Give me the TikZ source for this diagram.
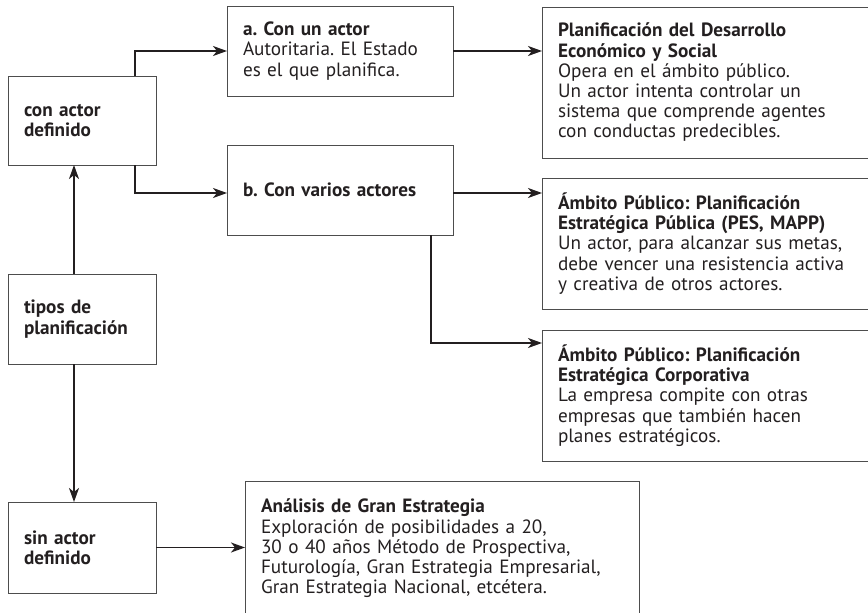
\documentclass[tikz,border=0pt]{standalone}
\usepackage{fontspec}
\setmainfont{PT Sans}
\usetikzlibrary{arrows.meta,calc}
\definecolor{ink}{HTML}{231F20}
\definecolor{boxc}{HTML}{4D4D4D}
\frenchspacing
\hyphenpenalty=10000
\begin{document}
\begin{tikzpicture}[x=1pt,y=-1pt,
  bx/.style={draw=boxc, line width=1pt, anchor=north west, inner xsep=16pt, inner ysep=0pt,
    outer sep=0pt, align=left, text=ink, font=\fontsize{19.2}{20.2}\selectfont},
  arr/.style={draw=ink, line width=1.8pt, -{Stealth[length=14pt,width=10pt,inset=4pt]}}]
\useasboundingbox (0,0) rectangle (868,613);
\node[bx, text width=116pt, minimum height=89pt] (ca) at (8,76) {\textbf{con actor}\\\textbf{definido}};
\node[bx, text width=116pt, minimum height=90pt] (tp) at (8,274) {\textbf{tipos de}\\\textbf{planificación}};
\node[bx, text width=116pt, minimum height=91pt] (sa) at (8,502) {\textbf{sin actor}\\\textbf{definido}};
\node[bx, text width=194pt, minimum height=90pt] (a) at (227,6) {\textbf{a. Con un actor}\\Autoritaria. El Estado\\es el que planifica.};
\node[bx, text width=194pt, minimum height=90pt] (b) at (227,145) {\textbf{b. Con varios actores}};
\node[bx, text width=308pt, minimum height=151pt] (p) at (542,7) {\textbf{Planificación del Desarrollo}\\\textbf{Económico y Social}\\Opera en el ámbito público.\\Un actor intenta controlar un\\sistema que comprende agentes\\con conductas predecibles.};
\node[bx, text width=308pt, minimum height=131pt] (pes) at (542,178) {\textbf{Ámbito Público: Planificación}\\\textbf{Estratégica Pública (PES, MAPP)}\\Un actor, para alcanzar sus metas,\\debe vencer una resistencia activa\\y creativa de otros actores.};
\node[bx, text width=308pt, minimum height=131pt] (corp) at (542,330) {\textbf{Ámbito Público: Planificación}\\\textbf{Estratégica Corporativa}\\La empresa compite con otras\\empresas que también hacen\\planes estratégicos.};
\node[bx, text width=362pt, minimum height=135pt] (an) at (245,481) {\textbf{Análisis de Gran Estrategia}\\Exploración de posibilidades a 20,\\30 o 40 años Método de Prospectiva,\\Futurología, Gran Estrategia Empresarial,\\Gran Estrategia Nacional, etcétera.};
% connectors
\draw[arr] ([xshift=-21pt]ca.north east) |- (a.west);
\draw[arr] ([xshift=-21pt]ca.south east) |- ([yshift=-3pt]b.west);
\draw[arr] (a.east) -- (a.east -| p.west);
\draw[arr] ([yshift=-3pt]b.east) -- ([yshift=-3pt]b.east -| pes.west);
\draw[arr] ([xshift=-22pt]b.south east) |- ($(corp.north west)+(0,13)$);
\draw[arr] ([xshift=-8pt]tp.north) -- ([xshift=-8pt]ca.south);
\draw[arr] ([xshift=-8pt]tp.south) -- ([xshift=-8pt]sa.north);
\draw[arr] (sa.east) -- (sa.east -| an.west);
\end{tikzpicture}
\end{document}
